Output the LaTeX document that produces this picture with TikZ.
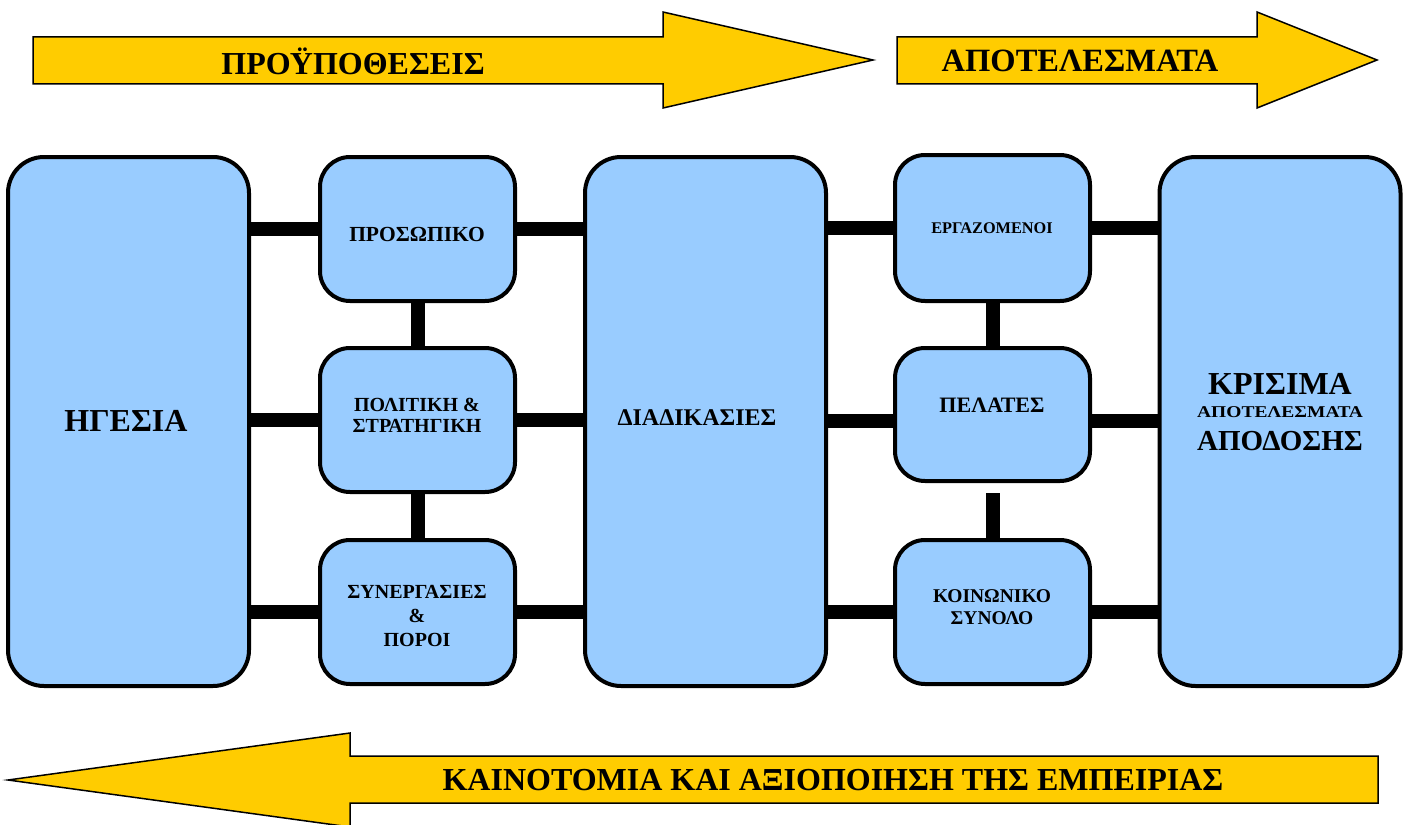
\documentclass[tikz,border=0pt]{standalone}
\usepackage{fontspec}
\setmainfont{Liberation Serif}
\begin{document}
\begin{tikzpicture}[x=1pt,y=-1pt,
  box/.style={draw=black,line width=4pt,fill=boxblue,rounded corners=30pt,inner sep=0pt},
  bigbox/.style={box,minimum width=241pt,minimum height=529pt,rounded corners=36pt},
  smallbox/.style={box,minimum width=195pt,minimum height=144pt},
  conn/.style={line width=14pt,draw=black},
  arrowshape/.style={draw=black,line width=1.5pt,fill=arrowyellow},
  lbl/.style={font=\bfseries,align=center,inner sep=0pt}
]
\definecolor{boxblue}{HTML}{99CCFF}
\definecolor{arrowyellow}{HTML}{FFCC00}
\useasboundingbox (0,0) rectangle (1407,824);

% arrows
\path[arrowshape] (33,37) -- (663,37) -- (663,12) -- (873,60) -- (663,108) -- (663,84) -- (33,84) -- cycle;
\path[arrowshape] (897,37) -- (1257,37) -- (1257,12) -- (1377,60) -- (1257,108) -- (1257,84) -- (897,84) -- cycle;
\path[arrowshape] (1378,756) -- (350,756) -- (350,733) -- (8,780) -- (350,827) -- (350,803) -- (1378,803) -- cycle;
\node[lbl,font=\bfseries\fontsize{32}{32}\selectfont] (t1) at (353,61) {ΠΡΟΫΠΟΘΕΣΕΙΣ};
\node[lbl,font=\bfseries\fontsize{32.5}{32}\selectfont] (t2) at (1080,61) {ΑΠΟΤΕΛΕΣΜΑΤΑ};
\node[lbl,font=\bfseries\fontsize{32}{32}\selectfont] (t3) at (833,780) {ΚΑΙΝΟΤΟΜΙΑ ΚΑΙ ΑΞΙΟΠΟΙΗΣΗ ΤΗΣ ΕΜΠΕΙΡΙΑΣ};

% boxes
\node[bigbox] (hg) at (128.5,421.5) {};
\node[smallbox] (prs) at (417.5,229) {};
\node[smallbox] (pol) at (417.5,420) {};
\node[smallbox] (syn) at (417.5,612) {};
\node[bigbox] (dia) at (705.5,421.5) {};
\node[smallbox,minimum height=146pt] (erg) at (992.5,228) {};
\node[smallbox,minimum height=133pt] (pel) at (992.5,414.5) {};
\node[smallbox] (koi) at (992.5,612) {};
\node[bigbox] (kri) at (1280,421.5) {};

% connectors
\draw[conn] (hg.east |- prs) -- (prs.west);
\draw[conn] (hg.east |- pol) -- (pol.west);
\draw[conn] (hg.east |- syn) -- (syn.west);
\draw[conn] (prs.east) -- (dia.west |- prs);
\draw[conn] (pol.east) -- (dia.west |- pol);
\draw[conn] (syn.east) -- (dia.west |- syn);
\draw[conn] (prs.south) -- (pol.north);
\draw[conn] (pol.south) -- (syn.north);
\draw[conn] (dia.east |- erg) -- (erg.west);
\coordinate (pely) at (0,421);
\draw[conn] (dia.east |- pely) -- (pel.west |- pely);
\draw[conn] (dia.east |- koi) -- (koi.west);
\draw[conn] (erg.east) -- (kri.west |- erg);
\draw[conn] (pel.east |- pely) -- (kri.west |- pely);
\draw[conn] (koi.east) -- (kri.west |- koi);
\draw[conn] (erg.south) -- (pel.north);
\coordinate (gapstart) at (992.5,493);
\draw[conn] (gapstart) -- (koi.north);

% labels
\node[lbl,font=\bfseries\fontsize{32}{32}\selectfont] (lhg) at (126,421) {ΗΓΕΣΙΑ};
\node[lbl,font=\bfseries\fontsize{21.5}{21}\selectfont] (lprs) at (417,234) {ΠΡΟΣΩΠΙΚΟ};
\node[lbl,font=\bfseries\fontsize{20}{21}\selectfont] (lpol) at (417,415) {ΠΟΛΙΤΙΚΗ \&\\ΣΤΡΑΤΗΓΙΚΗ};
\node[lbl,font=\bfseries\fontsize{20}{24}\selectfont] (lsyn) at (417,616) {ΣΥΝΕΡΓΑΣΙΕΣ\\\&\\ΠΟΡΟΙ};
\node[lbl,font=\bfseries\fontsize{24}{24}\selectfont] (ldia) at (697,418) {ΔΙΑΔΙΚΑΣΙΕΣ};
\node[lbl,font=\bfseries\fontsize{16.3}{16}\selectfont] (lerg) at (992,228) {ΕΡΓΑΖΟΜΕΝΟΙ};
\node[lbl,font=\bfseries\fontsize{22}{22}\selectfont] (lpel) at (992,405) {ΠΕΛΑΤΕΣ};
\node[lbl,font=\bfseries\fontsize{19.5}{22}\selectfont] (lkoi) at (992,607) {ΚΟΙΝΩΝΙΚΟ\\ΣΥΝΟΛΟ};
\node[lbl,font=\bfseries\fontsize{32}{32}\selectfont] (lkri1) at (1280,384) {ΚΡΙΣΙΜΑ};
\node[lbl,font=\bfseries\fontsize{16.5}{16}\selectfont] (lkri2) at (1280,412) {\scalebox{1.18}[1]{ΑΠΟΤΕΛΕΣΜΑΤΑ}};
\node[lbl,font=\bfseries\fontsize{29}{29}\selectfont] (lkri3) at (1280,441) {ΑΠΟΔΟΣΗΣ};
\end{tikzpicture}
\end{document}
